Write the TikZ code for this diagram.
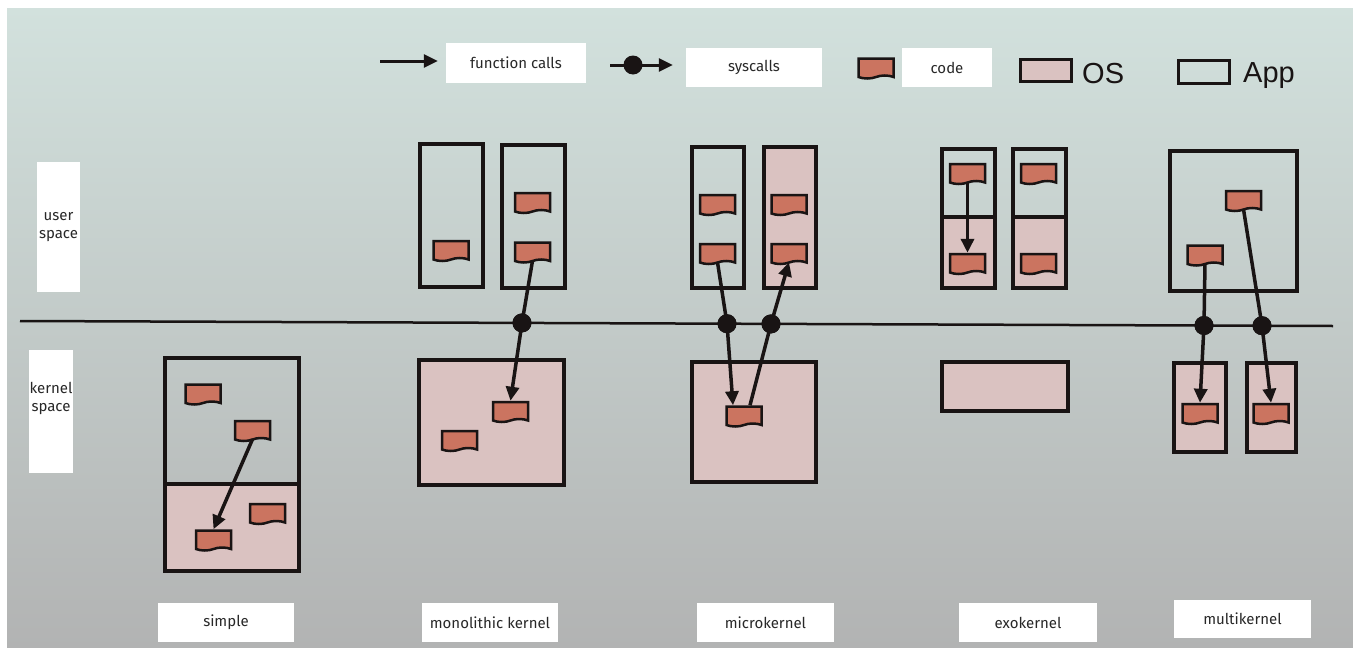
\documentclass[tikz,border=0pt]{standalone}
\usepackage{fontspec}
\setmainfont{Fira Sans}
\newfontfamily\bigsans{Liberation Sans}
\usetikzlibrary{shapes.symbols, arrows.meta, calc}

\definecolor{ink}{RGB}{25,20,20}
\definecolor{osfill}{RGB}{218,194,193}
\definecolor{codefill}{RGB}{203,116,96}
\definecolor{bgtop}{RGB}{210,225,221}
\definecolor{bgbot}{RGB}{178,179,179}
\definecolor{tagtext}{RGB}{40,40,40}

\tikzset{
  appbox/.style={draw=ink, line width=4pt, inner sep=0pt},
  osbox/.style={appbox, fill=osfill},
  codebox/.style={tape, tape bend top=none, tape bend bottom=in and out, tape bend height=3pt,
    draw=ink, fill=codefill, line width=2.5pt, minimum width=35pt, minimum height=20pt, inner sep=0pt},
  sysdot/.style={circle, fill=ink, minimum size=19pt, inner sep=0pt},
  call/.style={draw=ink, line width=3.5pt, -{Triangle[length=14pt,width=13pt]}},
  tag/.style={fill=white, text=tagtext, font=\fontsize{15}{18}\selectfont, inner sep=0pt, align=center},
}

\begin{document}
\begin{tikzpicture}[x=1pt, y=-1pt]
    \useasboundingbox (0,0) rectangle (1353,648);
    \fill[white] (0,0) rectangle (1353,648);
    \shade[top color=bgtop, bottom color=bgbot] (7,8) rectangle (1353,648);

    % legend
    \node[tag, minimum width=140pt, minimum height=40pt] (t-fcalls) at (516,63) {function calls};
    \node[tag, minimum width=136pt, minimum height=39pt] (t-sys) at (754,67.5) {syscalls};
    \node[tag, minimum width=90pt, minimum height=39pt] (t-code) at (947,67.5) {code};
    \coordinate (fc-tail) at (380,61);
    \draw[call, line width=3pt, shorten >=8pt] (fc-tail) -- (fc-tail -| t-fcalls.west);
    \coordinate (sc-tail) at (610,65);
    \draw[call, line width=3pt, shorten >=13pt] (sc-tail) -- (sc-tail -| t-sys.west);
    \node[sysdot] (sc-dot) at (633,65) {};
    \node[codebox] (lg-code) at (876,67) {};
    \node[osbox, line width=3pt, minimum width=51pt, minimum height=22pt] (lg-os) at (1046,70.5) {};
    \node[anchor=base west, font=\bigsans\fontsize{29}{30}\selectfont, text=ink, inner sep=0pt] (lg-os-text) at (1082,83) {OS};
    \node[appbox, line width=3pt, minimum width=51pt, minimum height=23pt] (lg-app) at (1204,72) {};
    \node[anchor=base west, font=\bigsans\fontsize{29}{30}\selectfont, text=ink, inner sep=0pt] (lg-app-text) at (1243,82) {App};

    % user / kernel boundary
    \node[tag, minimum width=43pt, minimum height=130pt] (t-user) at (58.5,227) {user\\space};
    \node[tag, minimum width=44pt, minimum height=123pt] (t-kernel) at (51,411.5) {};
    \node[tag, fill=none] at (51,398) {kernel\\space};
    \coordinate (div-l) at (20,321);
    \coordinate (div-r) at (1333,326);
    \draw[ink, line width=2.5pt] (div-l) -- (div-r);

    % simple
    \node[osbox, minimum width=134pt, minimum height=87pt] (s-os) at (231.5,527.5) {};
    \node[appbox, minimum width=134pt, minimum height=126pt] (s-app) at (231.5,421) {};
    \node[codebox] (s-c1) at (203,393) {};
    \node[codebox] (s-c2) at (252.5,429.5) {};
    \node[codebox] (s-c3) at (267.5,512.5) {};
    \node[codebox] (s-c4) at (213.5,539) {};
    \draw[call] (s-c2.south) -- (s-c4.north);

    % monolithic kernel
    \node[appbox, minimum width=63pt, minimum height=143pt] (m-app1) at (451,215) {};
    \node[appbox, minimum width=63pt, minimum height=143pt] (m-app2) at (533,216) {};
    \node[osbox, minimum width=145pt, minimum height=125pt] (m-os) at (491,422) {};
    \node[codebox] (m-a1c) at (451,249.5) {};
    \node[codebox] (m-a2c1) at (532.5,201.5) {};
    \node[codebox] (m-a2c2) at (532.5,251) {};
    \node[codebox] (m-kc1) at (510.5,410.5) {};
    \node[codebox] (m-kc2) at (459.5,439.5) {};
    \node[sysdot] (m-dot) at (522,322.9) {};
    \draw[call] (m-a2c2.south) -- (m-dot.center) -- (m-kc1.north);
    \node[sysdot] at (m-dot) {};

    % microkernel
    \node[appbox, minimum width=52pt, minimum height=141pt] (u-app1) at (717.5,217) {};
    \node[osbox, minimum width=52pt, minimum height=141pt] (u-app2) at (789.5,217) {};
    \node[osbox, minimum width=124pt, minimum height=120pt] (u-os) at (753.5,421.5) {};
    \node[codebox] (u-a1c1) at (717.5,203.5) {};
    \node[codebox] (u-a1c2) at (717.5,252.5) {};
    \node[codebox] (u-a2c1) at (789,203.5) {};
    \node[codebox] (u-a2c2) at (789,252.5) {};
    \node[codebox] (u-kc) at (744,415) {};
    \node[sysdot] (u-dot1) at (727,323.7) {};
    \node[sysdot] (u-dot2) at (771,323.9) {};
    \draw[call] (u-a1c2.south) -- (u-dot1.center) -- ([xshift=-11pt]u-kc.north);
    \draw[call] ([xshift=6pt]u-kc.north) -- (u-dot2.center) -- (u-a2c2.south);
    \node[sysdot] at (u-dot1) {};
    \node[sysdot] at (u-dot2) {};

    % exokernel
    \node[osbox, minimum width=53pt, minimum height=71pt] (e-os1) at (968,252.5) {};
    \node[appbox, minimum width=53pt, minimum height=68pt] (e-app1) at (968,183) {};
    \node[osbox, minimum width=53pt, minimum height=71pt] (e-os2) at (1039.5,252.5) {};
    \node[appbox, minimum width=53pt, minimum height=68pt] (e-app2) at (1039.5,183) {};
    \node[osbox, minimum width=126pt, minimum height=49pt] (e-os) at (1004.5,386) {};
    \node[codebox] (e-a1c1) at (967.5,172.5) {};
    \node[codebox] (e-a1c2) at (967.5,262.5) {};
    \node[codebox] (e-a2c1) at (1038.5,172.5) {};
    \node[codebox] (e-a2c2) at (1038.5,262.5) {};
    \draw[call] (e-a1c1.south) -- (e-a1c2.north);

    % multikernel
    \node[appbox, minimum width=127pt, minimum height=140pt] (x-app) at (1233,220.5) {};
    \node[osbox, minimum width=52pt, minimum height=89pt] (x-os1) at (1199.5,407) {};
    \node[osbox, minimum width=49pt, minimum height=89pt] (x-os2) at (1271,407) {};
    \node[codebox] (x-c1) at (1243.5,199.5) {};
    \node[codebox] (x-c2) at (1205,254) {};
    \node[codebox] (x-k1c) at (1200,412.5) {};
    \node[codebox] (x-k2c) at (1271,412.5) {};
    \node[sysdot] (x-dot1) at (1204,325.5) {};
    \node[sysdot] (x-dot2) at (1262,325.7) {};
    \draw[call] (x-c2.south) -- (x-dot1.center) -- (x-k1c.north);
    \draw[call] (x-c1.south) -- (x-dot2.center) -- (x-k2c.north);
    \node[sysdot] at (x-dot1) {};
    \node[sysdot] at (x-dot2) {};

    % captions
    \node[tag, minimum width=136pt, minimum height=39pt] (t-simple) at (226,622.5) {simple};
    \node[tag, minimum width=136pt, minimum height=39pt] (t-mono) at (490,622.5) {monolithic kernel};
    \node[tag, minimum width=137pt, minimum height=39pt] (t-micro) at (765.5,622.5) {microkernel};
    \node[tag, minimum width=138pt, minimum height=39pt] (t-exo) at (1028,622.5) {exokernel};
    \node[tag, minimum width=137pt, minimum height=38pt] (t-multi) at (1242.5,619) {multikernel};
\end{tikzpicture}
\end{document}
